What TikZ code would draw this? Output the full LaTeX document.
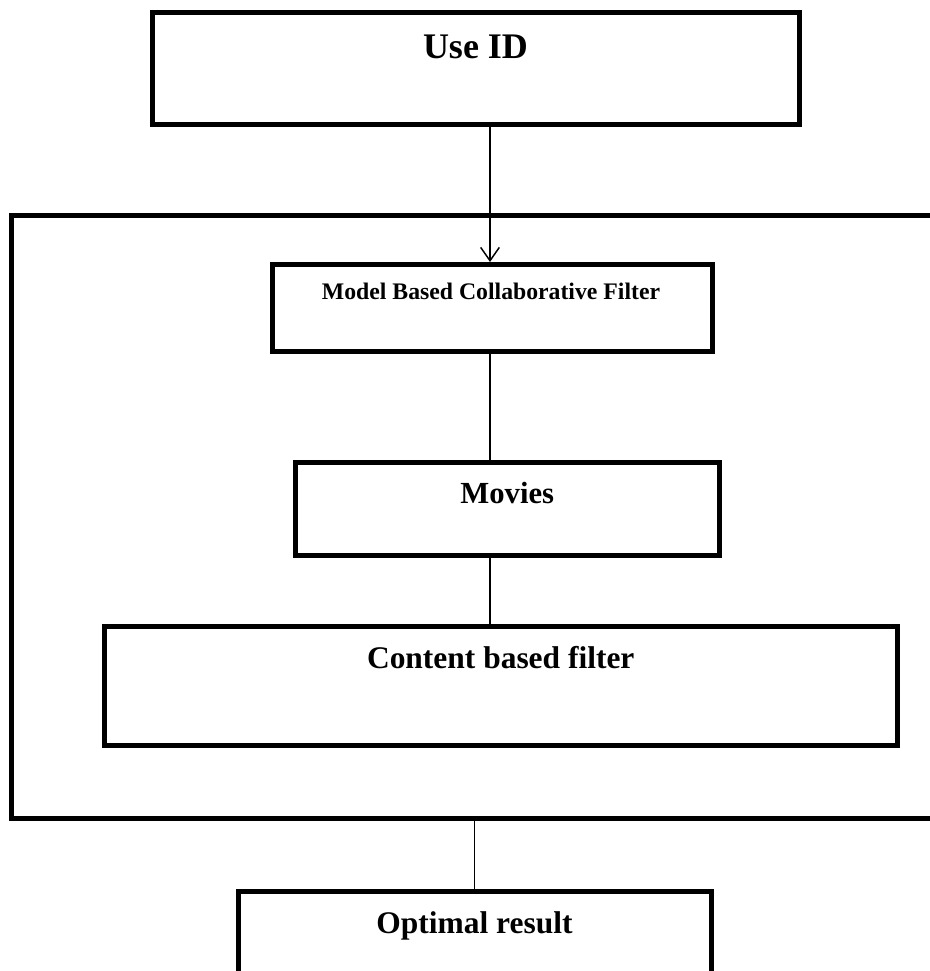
\documentclass[tikz,border=0pt]{standalone}
\usepackage{fontspec}
\setmainfont{Liberation Serif}
\usetikzlibrary{arrows.meta}
\tikzset{
  box/.style={draw,rectangle,line width=3.75pt,inner sep=0pt},
  lbl/.style={anchor=base,inner sep=0pt,font=\bfseries},
  link/.style={line width=1.1pt},
  linka/.style={-{Straight Barb[length=10pt,width=14pt,line width=1.1pt]},line width=1.1pt},
}
\begin{document}
\begin{tikzpicture}[x=0.75pt,y=-0.75pt]
  \useasboundingbox (0,0) rectangle (929,971);
  % boxes
  \node[box,minimum width=485.25pt,minimum height=84.375pt] (useid) at (475.5,68.25) {};
  \node[box,minimum width=700.125pt,minimum height=452.25pt] (frame) at (478.25,517) {};
  \node[box,minimum width=330pt,minimum height=64.875pt] (model) at (492,307.75) {};
  \node[box,minimum width=317.625pt,minimum height=69.75pt] (movies) at (507.25,508.5) {};
  \node[box,minimum width=595.125pt,minimum height=89.25pt] (content) at (500.75,685.5) {};
  \node[box,minimum width=354.75pt,minimum height=89.25pt] (optimal) at (474.5,950.5) {};
  % texts
  \node[lbl,font=\bfseries\fontsize{27}{30}\selectfont] (tuseid) at (475.5,58) {Use ID};
  \node[lbl,font=\bfseries\fontsize{17.8}{20}\selectfont] (tmodel) at (491,299) {Model Based Collaborative Filter};
  \node[lbl,font=\bfseries\fontsize{23}{26}\selectfont] (tmovies) at (507.25,503) {Movies};
  \node[lbl,font=\bfseries\fontsize{23.6}{26}\selectfont] (tcontent) at (500.75,668) {Content based filter};
  \node[lbl,font=\bfseries\fontsize{23.6}{26}\selectfont] (toptimal) at (474.5,933) {Optimal result};
  % connectors
  \draw[linka] ([xshift=-1.5pt]model.north |- useid.south) -- ([xshift=-1.5pt]model.north);
  \draw[link] ([xshift=-1.5pt]model.south) -- ([xshift=-1.5pt]model.south |- movies.north);
  \draw[link] ([xshift=-1.5pt]model.south |- movies.south) -- ([xshift=-1.5pt]model.south |- content.north);
  \draw[link] (optimal.north |- frame.south) -- (optimal.north);
\end{tikzpicture}
\end{document}
